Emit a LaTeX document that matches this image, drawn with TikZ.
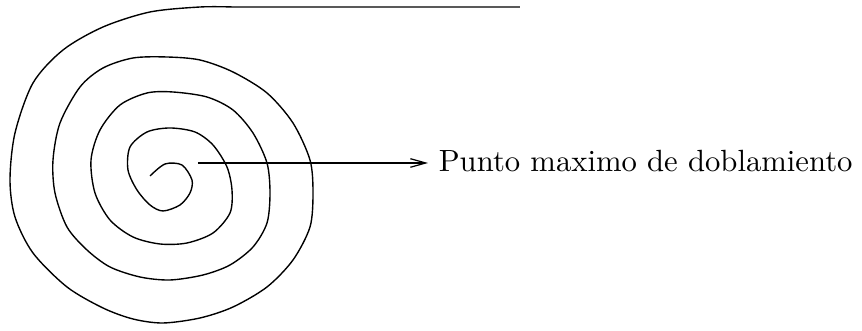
\documentclass[tikz,border=0pt]{standalone}
\usetikzlibrary{positioning,arrows.meta}

\begin{document}
\begin{tikzpicture}[x=0.326pt, y=-0.326pt, >={Straight Barb[length=5pt,width=2.8pt]}, spiral/.style={line width=0.45pt}]
  \useasboundingbox (0,0) rectangle (862,331);
  % spiral, from the inside out
  \draw[spiral] plot[smooth] coordinates {
    (150,176) (165,164) (182,165) (192,180) (190,193) (180,205) (163,211)
    (150,205) (137,190) (128,170) (130,147) (147,132) (170,128) (195,132)
    (213,145) (227,167) (232,190) (230,213) (213,233) (187,243) (160,244)
    (133,237) (110,220) (95,193) (91,160) (100,130) (120,105) (147,93)
    (173,92) (207,97) (233,110) (253,133) (267,163) (270,193) (267,223)
    (253,247) (230,265) (203,275) (170,280) (140,277) (110,267) (87,250)
    (67,227) (55,193) (53,160) (60,123) (80,87) (103,68) (133,58) (167,57)
    (200,60) (233,72) (267,93) (293,123) (310,160) (313,193) (310,227)
    (293,260) (267,287) (233,307) (200,318) (163,323) (133,319) (103,308)
    (67,287) (33,253) (15,217) (10,180) (15,133) (33,83) (63,50) (103,27)
    (150,12) (200,7) (233,7)} -- (520,7);
  % label
  \coordinate (peak) at (198,163);
  \node[anchor=west] (lbl) at (428,161) {Punto maximo de doblamiento};
  \draw[->] (peak) -- (peak -| lbl.west);
\end{tikzpicture}
\end{document}
